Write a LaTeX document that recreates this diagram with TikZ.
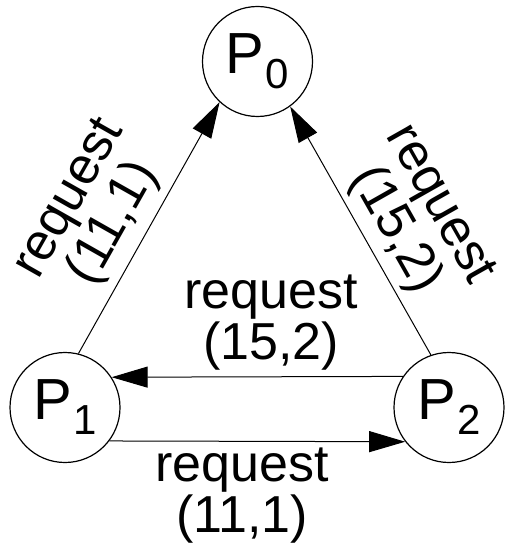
\documentclass[tikz,border=0pt]{standalone}
\usepackage{fontspec}
\setmainfont{Liberation Sans}
\usetikzlibrary{arrows.meta}
% process name with a lowered index
\newcommand\procname[1]{P\kern1.5pt\raisebox{-15pt}{\fontsize{42}{42}\selectfont #1}}
\begin{document}
\begin{tikzpicture}[x=1pt,y=-1pt,
  proc/.style={circle,draw,line width=1.2pt,minimum size=110pt,inner sep=0pt,
               font=\fontsize{58}{60}\selectfont},
  msg/.style={-{Triangle[length=36pt,width=21pt]},line width=1pt},
  lbl/.style={align=center,inner sep=0pt,font=\fontsize{52}{51}\selectfont}]
\useasboundingbox (0,0) rectangle (504,545);

\node[proc] (p0) at (257.5,61.5) {\procname{0}};
\node[proc] (p1) at (65,407.5)   {\procname{1}};
\node[proc] (p2) at (449,407.5)  {\procname{2}};

\draw[msg] (p1.76.6)   -- (p0.227.8);
\draw[msg] (p2.109.2)  -- (p0.306.6);
\draw[msg] (p2.146.3)  -- (p1.33.7);
\draw[msg] (p1.-37.5)  -- (p2.-142.5);

\node[lbl,rotate=60.5]  (l10) at (93,212)  {request\\(11,1)};
\node[lbl,rotate=-60.5] (l20) at (416,218) {request\\(15,2)};
\node[lbl]              (l21) at (271,323) {request\\(15,2)};
\node[lbl]              (l12) at (242,496) {request\\(11,1)};
\end{tikzpicture}
\end{document}
